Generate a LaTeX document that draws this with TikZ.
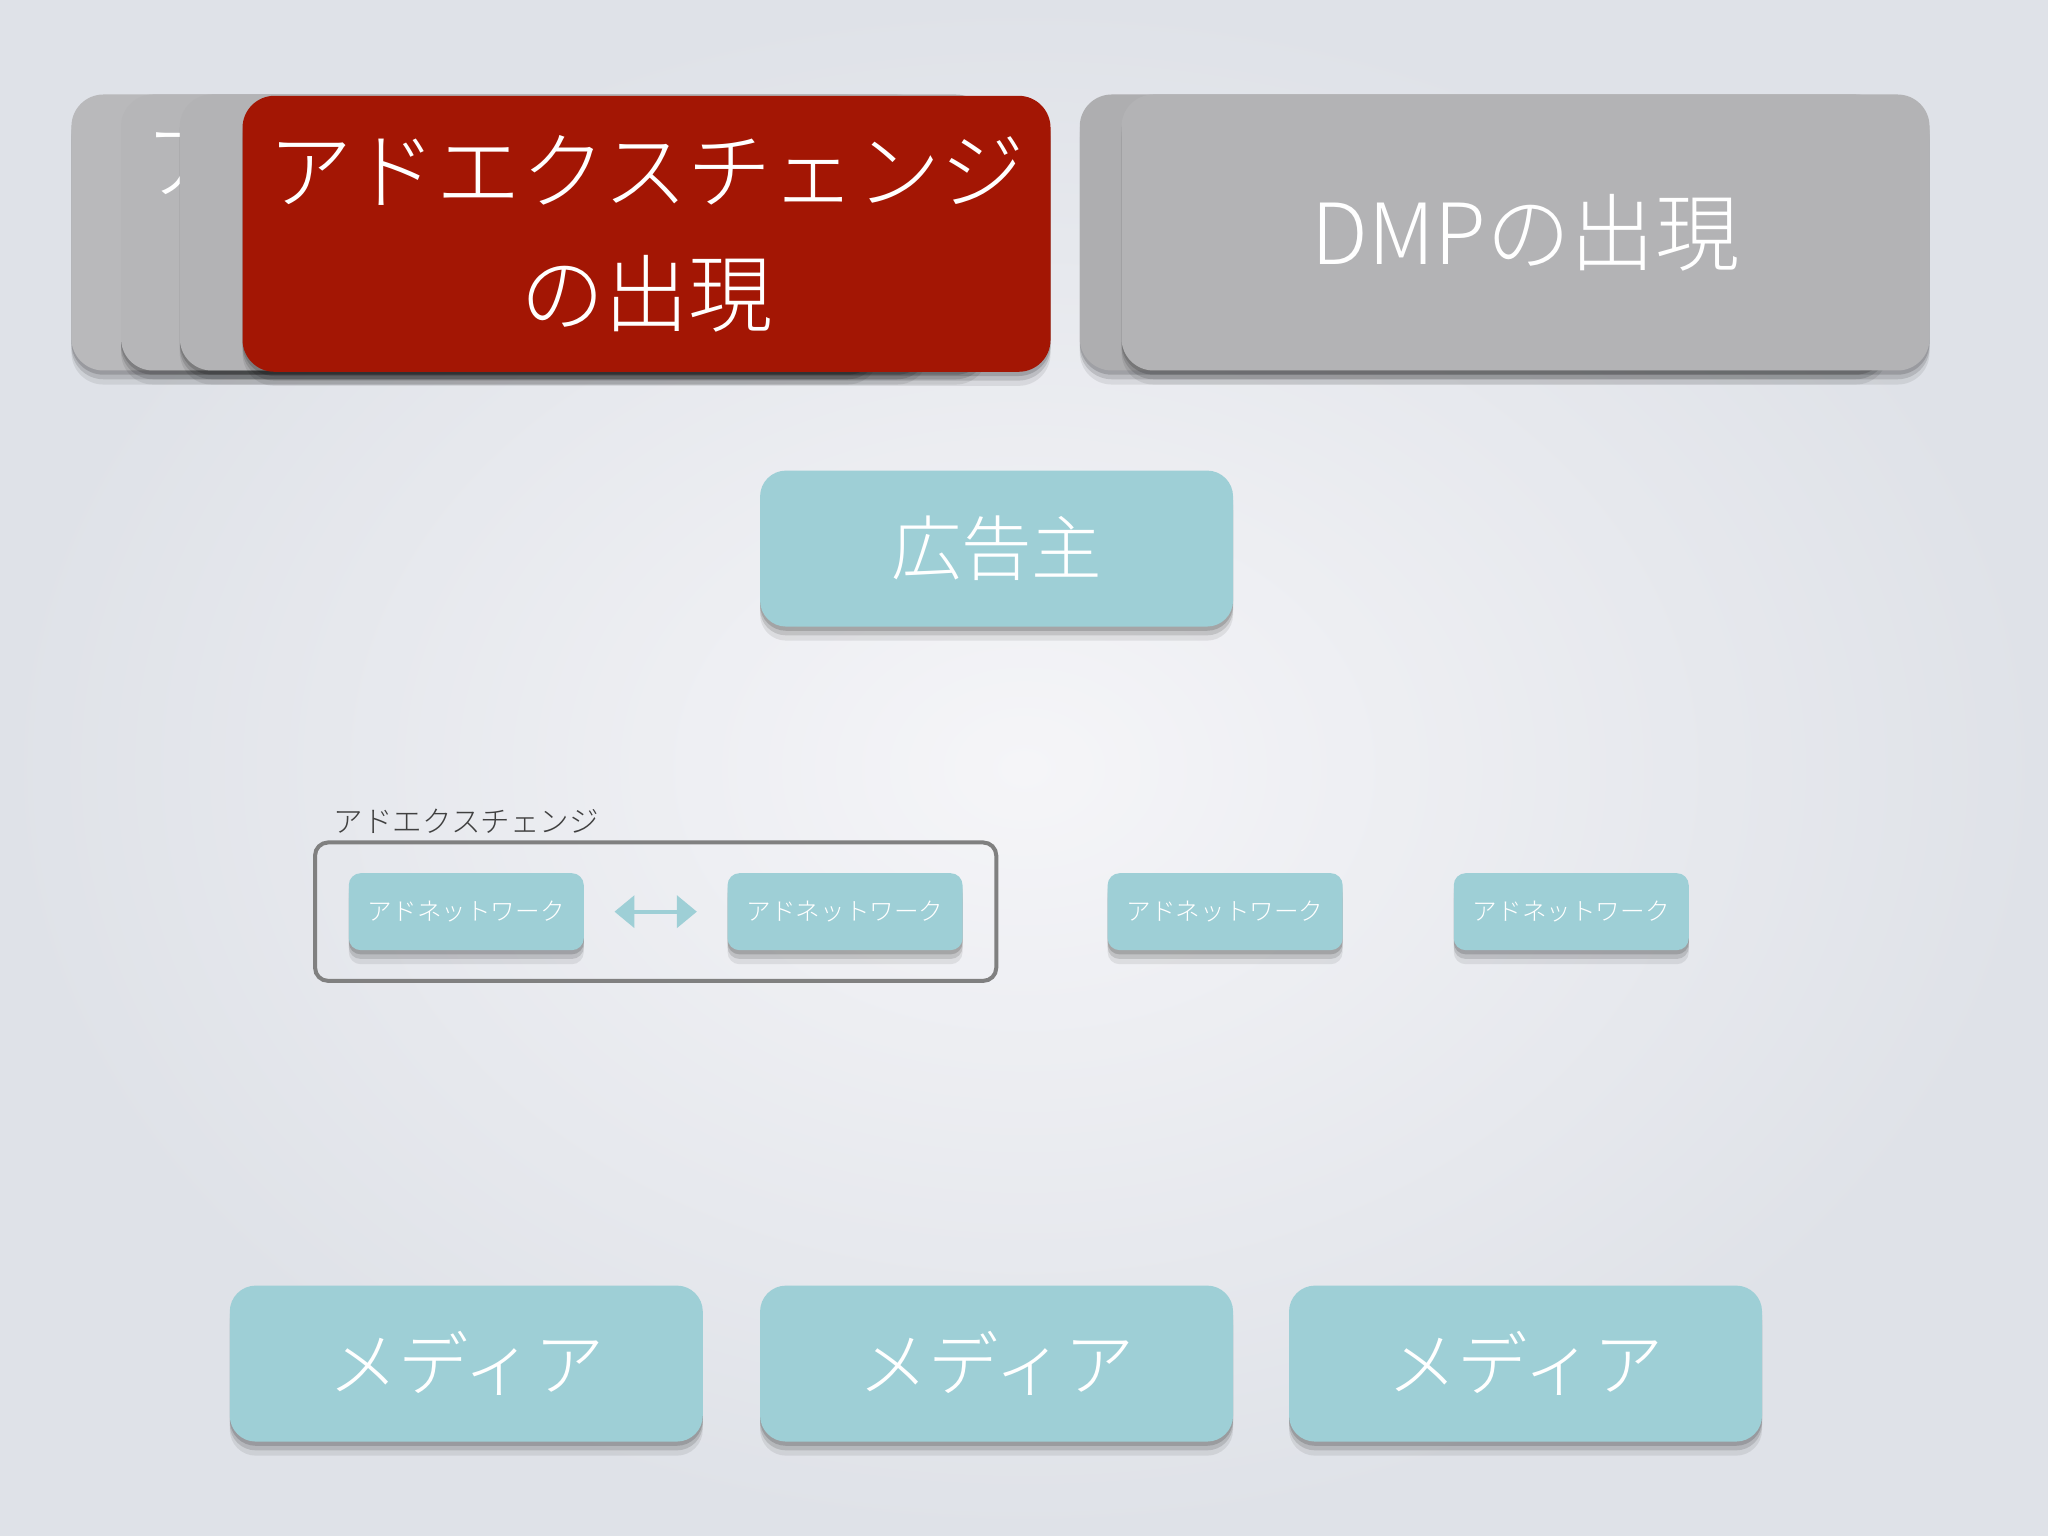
\documentclass[tikz,border=0pt]{standalone}
\usepackage{fontspec}
\setmainfont{Noto Sans CJK JP Light}
\usepackage{tikz}
\usetikzlibrary{positioning,arrows.meta,shadows,fit}

\definecolor{exred}{HTML}{A31604}
\definecolor{cardgray}{HTML}{B3B3B5}
\definecolor{adteal}{HTML}{9ECFD6}
\definecolor{bgout}{HTML}{DFE2E8}
\definecolor{bgin}{HTML}{F5F5F8}

\begin{document}
\begin{tikzpicture}[x=0.01306cm, y=0.01306cm, >={Triangle[width=0.32cm,length=0.2cm]},
  boxshadow/.style={drop shadow={opacity=0.08, fill=black, shadow xshift=0pt, shadow yshift=-4pt},
    drop shadow={opacity=0.12, fill=black, shadow xshift=0pt, shadow yshift=-2.5pt},
    drop shadow={opacity=0.15, fill=black, shadow xshift=0pt, shadow yshift=-1.2pt}},
  card/.style={fill=cardgray, rounded corners=0.32cm, minimum width=8.08cm, minimum height=2.76cm,
    inner sep=0pt, text=white, align=center, font=\fontsize{24}{35}\selectfont, boxshadow},
  bigbox/.style={fill=adteal, rounded corners=0.26cm, minimum width=4.73cm, minimum height=1.56cm,
    text=white, font=\fontsize{20}{24}\selectfont, boxshadow},
  netbox/.style={fill=adteal, rounded corners=0.12cm, minimum width=2.35cm, minimum height=0.77cm,
    text=white, font=\fontsize{7}{8}\selectfont, boxshadow},
  exframe/.style={draw=black!50, line width=0.04cm, rounded corners=0.13cm},
  exlabel/.style={text=black!75, inner sep=0pt, font=\fontsize{8.4}{10}\selectfont}]

\useasboundingbox (0,0) rectangle (1568,-1176);
\shade[inner color=bgin, outer color=bgout] (0,0) rectangle (1568,-1176);

% left card stack
\node[card, fill=cardgray!92!white] (c1) at (364,-178) {};
\node[card, fill=cardgray!96!white] (c2) at (402,-178) {};
\node[text=white, anchor=west, inner sep=0pt, font=\fontsize{24}{35}\selectfont] (c2t) at (111,-125) {ア};
\node[card] (c3) at (447,-178) {};
\node[card, fill=exred] (ex) at (495,-179) {アドエクスチェンジ\\の出現};

% right card stack
\node[card, fill=cardgray!97!black] (d1) at (1136,-178) {};
\node[card] (dmp) at (1168,-178) {DMPの出現};

% advertiser
\node[bigbox] (adv) at (763,-420) {広告主};

% ad networks
\node[netbox] (nw1) at (357,-698) {アドネットワーク};
\node[netbox] (nw2) at (647,-698) {アドネットワーク};
\node[netbox] (nw3) at (938,-698) {アドネットワーク};
\node[netbox] (nw4) at (1203,-698) {アドネットワーク};

% exchange frame
\node[exframe, fit=(nw1)(nw2), inner xsep=0.33cm, inner ysep=0.3cm] (ax) {};
\node[exlabel, above right=0.06cm and 0.2cm of ax.north west] (axl) {アドエクスチェンジ};
\draw[<->, adteal, line width=0.04cm, shorten >=0.3cm, shorten <=0.3cm] (nw1) -- (nw2);

% media
\node[bigbox] (m1) at (357,-1044) {メディア};
\node[bigbox] (m2) at (763,-1044) {メディア};
\node[bigbox] (m3) at (1168,-1044) {メディア};
\end{tikzpicture}
\end{document}
